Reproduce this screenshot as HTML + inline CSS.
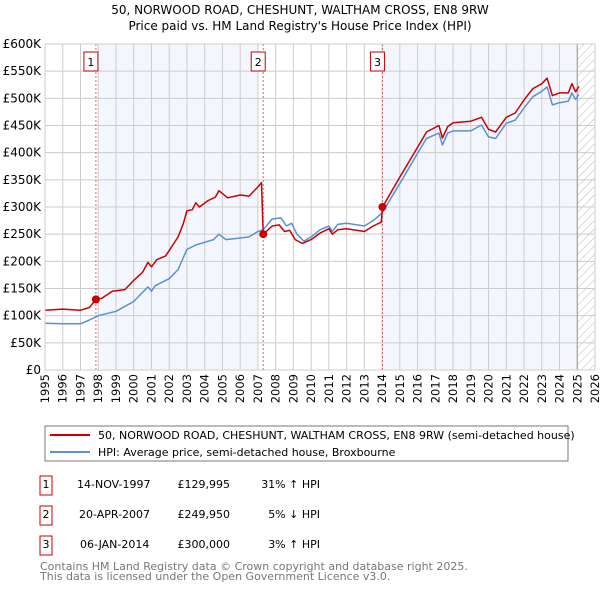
<!DOCTYPE html>
<html><head><meta charset="utf-8"><style>
body{margin:0;background:#fff;font-family:"Liberation Sans","DejaVu Sans",sans-serif}
svg{display:block}
</style></head><body>
<svg id="c" width="600" height="590" xmlns="http://www.w3.org/2000/svg" font-family="DejaVu Sans, Liberation Sans, sans-serif">
<text x="300" y="14" text-anchor="middle" font-size="12">50, NORWOOD ROAD, CHESHUNT, WALTHAM CROSS, EN8 9RW</text>
<text x="300" y="30" text-anchor="middle" font-size="12">Price paid vs. HM Land Registry's House Price Index (HPI)</text>
<defs><pattern id="hatch" width="6" height="6" patternUnits="userSpaceOnUse" patternTransform="rotate(45)"><line x1="0" y1="0" x2="0" y2="6" stroke="#bbb" stroke-width="1"/></pattern></defs>
<g id="plot"></g>
<rect x="45" y="426" width="523" height="35" fill="#fff" stroke="#777"/>
<line x1="50" y1="435" x2="90" y2="435" stroke="#cc0000" stroke-width="2"/>
<text x="98" y="439" font-size="11">50, NORWOOD ROAD, CHESHUNT, WALTHAM CROSS, EN8 9RW (semi-detached house)</text>
<line x1="50" y1="452" x2="90" y2="452" stroke="#5b8fd6" stroke-width="2"/>
<text x="98" y="456" font-size="11">HPI: Average price, semi-detached house, Broxbourne</text>
<g font-size="11">
<rect x="40" y="476" width="12" height="19" fill="#fff" stroke="#cc0000"/><text x="46" y="488" text-anchor="middle">1</text>
<text x="77" y="488">14-NOV-1997</text><text x="230" y="488" text-anchor="end">£129,995</text><text x="320" y="488" text-anchor="end">31% ↑ HPI</text>
<rect x="40" y="506" width="12" height="19" fill="#fff" stroke="#cc0000"/><text x="46" y="518" text-anchor="middle">2</text>
<text x="79" y="518">20-APR-2007</text><text x="230" y="518" text-anchor="end">£249,950</text><text x="320" y="518" text-anchor="end">5% ↓ HPI</text>
<rect x="40" y="536" width="12" height="19" fill="#fff" stroke="#cc0000"/><text x="46" y="548" text-anchor="middle">3</text>
<text x="80" y="548">06-JAN-2014</text><text x="230" y="548" text-anchor="end">£300,000</text><text x="320" y="548" text-anchor="end">3% ↑ HPI</text>
</g>
<text x="40" y="570" font-size="11" fill="#777">Contains HM Land Registry data © Crown copyright and database right 2025.</text>
<text x="40" y="580" font-size="11" fill="#777">This data is licensed under the Open Government Licence v3.0.</text>
</svg>
<script>
const hpiYears=[1995,1996,1997,1997.5,1998,1999,2000,2000.8,2001.0,2001.2,2002,2002.5,2003,2003.5,2004,2004.5,2004.8,2005.2,2006,2006.5,2007,2007.3,2007.8,2008.3,2008.6,2008.9,2009.2,2009.6,2010,2010.5,2011,2011.2,2011.5,2012,2013,2013.5,2014,2015,2016,2016.5,2017.2,2017.4,2017.7,2018,2019,2019.6,2020,2020.4,2021,2021.5,2022,2022.5,2023,2023.3,2023.6,2024,2024.5,2024.7,2024.9,2025.1];
const hpiValues=[86,85,85,92,100,108,126,153,145,155,168,185,222,230,235,240,250,240,243,245,255,258,278,280,265,270,250,237,245,258,265,255,268,270,265,275,289,343,399,426,436,414,436,440,440,451,429,426,454,460,482,503,513,521,488,492,495,510,498,507];
const propYears=[1995,1996,1997,1997.5,1997.87,1998.2,1998.8,1999.5,2000,2000.5,2000.8,2001.0,2001.3,2001.8,2002,2002.5,2002.8,2003.0,2003.3,2003.5,2003.7,2004.2,2004.6,2004.8,2005.3,2006,2006.5,2007,2007.2,2007.3,2007.8,2008.2,2008.5,2008.8,2009.1,2009.5,2010,2010.5,2011,2011.2,2011.5,2012,2013,2013.5,2013.95,2014.02,2015,2016,2016.5,2017.2,2017.4,2017.7,2018,2019,2019.6,2020,2020.4,2021,2021.5,2022,2022.5,2023,2023.3,2023.6,2024,2024.5,2024.7,2024.9,2025.1];
const propValues=[110,112,110,115,130,132,145,148,165,180,198,190,203,210,220,245,270,293,295,308,300,312,318,330,317,322,320,337,345,250,265,267,255,257,240,233,240,252,260,250,258,260,255,265,272,300,355,410,438,450,427,448,455,458,465,443,438,465,473,497,518,527,537,505,510,510,527,512,522];
const saleYears=[1997.87,2007.3,2014.02];
const saleValues=[129.995,249.95,300];
const saleLabels=["1","2","3"];
const yTicks=[0,50,100,150,200,250,300,350,400,450,500,550,600];
const yTickLabels=["£0","£50K","£100K","£150K","£200K","£250K","£300K","£350K","£400K","£450K","£500K","£550K","£600K"];
const xTicks=[1995,1996,1997,1998,1999,2000,2001,2002,2003,2004,2005,2006,2007,2008,2009,2010,2011,2012,2013,2014,2015,2016,2017,2018,2019,2020,2021,2022,2023,2024,2025,2026];
const shadeRanges=[[1998,2007],[2014,2025]];
const x0=45,x1=595,y0=370,y1=44;
const X=v=>x0+(v-1995)/(2026-1995)*(x1-x0);
const Y=v=>y0-v/600*(y0-y1);
const NS="http://www.w3.org/2000/svg";
const g=document.getElementById('plot');
function mk(t,a){const e=document.createElementNS(NS,t);for(const k in a)e.setAttribute(k,a[k]);g.appendChild(e);return e;}
let e=mk('rect',{x:x0,y:y1,width:x1-x0,height:y0-y1,fill:'#fff'});


shadeRanges.forEach((r,i)=>{const s=mk('rect',{x:X(r[0]),y:y1,width:X(r[1])-X(r[0]),height:y0-y1,fill:'#f3f7fd'});

});
e=mk('rect',{x:X(2025),y:y1,width:x1-X(2025),height:y0-y1,fill:'url(#hatch)'});


yTicks.forEach((t,i)=>{const l=mk('line',{x1:x0,x2:x1,y1:Y(t),y2:Y(t),stroke:'#ccc'});


const tx=mk('text',{x:x0-4,y:Y(t)+4,'text-anchor':'end','font-size':12});tx.textContent=yTickLabels[i];

});
xTicks.forEach(t=>{const l=mk('line',{x1:X(t),x2:X(t),y1:y1,y2:y0,stroke:'#ccc'});


const tx=mk('text',{x:X(t)+4,y:374,'text-anchor':'end','font-size':11.5,transform:'rotate(-90 '+(X(t)+4)+' 374)'});tx.textContent=t;

});
e=mk('line',{x1:X(2025),x2:X(2025),y1:y1,y2:y0,stroke:'#999'});


saleYears.forEach((s,i)=>{const l=mk('line',{x1:X(s),x2:X(s),y1:y1,y2:y0,stroke:'#e06060','stroke-dasharray':'2,2'});

});
function path(xs,vs,col,name){const d=xs.map((x,i)=>(i?'L':'M')+X(x).toFixed(1)+','+Y(vs[i]).toFixed(1)).join('');
const p=mk('path',{d:d,fill:'none',stroke:col,'stroke-width':1.5,'stroke-linejoin':'round'});

}
path(hpiYears,hpiValues,'#5b8fd6','hpi-line');
path(propYears,propValues,'#cc0000','property-line');
saleYears.forEach((s,i)=>{const c=mk('circle',{cx:X(s),cy:Y(saleValues[i]),r:4,fill:'#cc0000'});


const b=mk('rect',{x:X(s)-12,y:52,width:14,height:19,fill:'#fff',stroke:'#cc0000'});


const t=mk('text',{x:X(s)-5,y:66,'text-anchor':'middle','font-size':11});t.textContent=saleLabels[i];

});
e=mk('rect',{x:x0,y:y1,width:x1-x0,height:y0-y1,fill:'none',stroke:'#ccc'});


</script>
</body></html>
